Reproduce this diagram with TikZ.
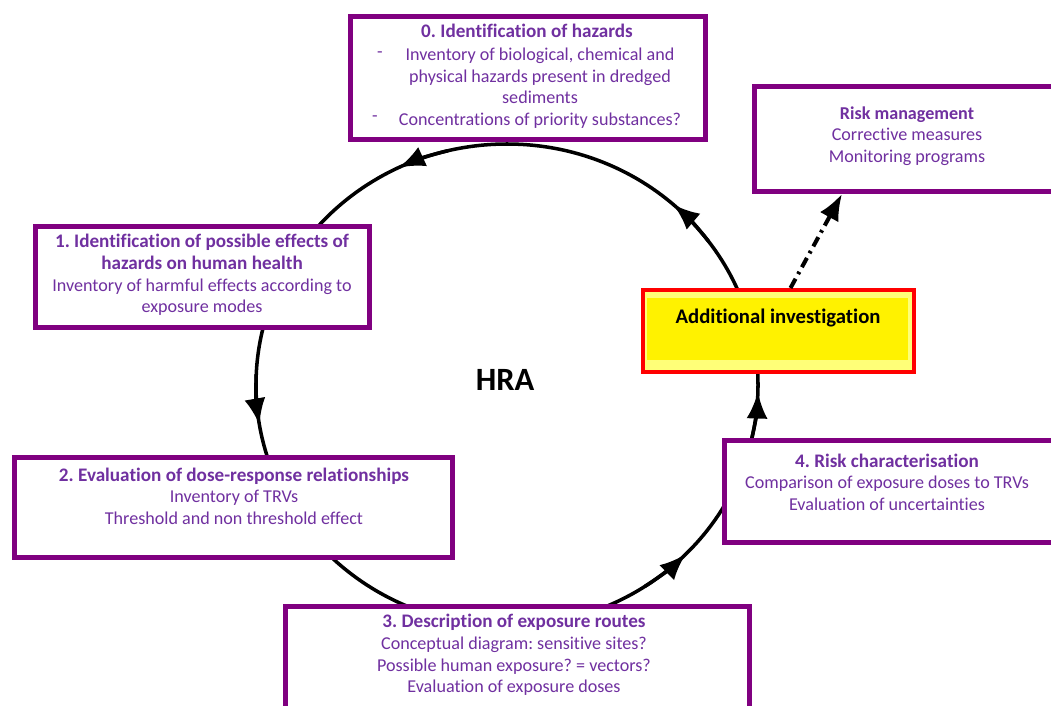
\documentclass[tikz,border=0pt]{standalone}
\usepackage{fontspec}
\setmainfont{Carlito}[Ligatures=NoCommon]
\usetikzlibrary{arrows.meta}
\definecolor{boxpurple}{RGB}{128,0,128}
\definecolor{txtpurple}{RGB}{112,48,160}
\definecolor{lightyel}{RGB}{255,255,120}
\newcommand{\ttlf}{\fontsize{10.9}{12.6}\selectfont\bfseries}
\frenchspacing
\begin{document}
\begin{tikzpicture}[x=0.02cm,y=0.02cm,
  box/.style={draw=boxpurple,line width=2.8pt,fill=white,inner sep=0pt,rectangle},
  body/.style={text=txtpurple,align=center,font=\fontsize{10.3}{12.3}\selectfont,inner sep=0pt},
  ttl/.style={font=\ttlf},
  flow/.style={line width=2pt,black},
  tipL/.style={-{Latex[length=15pt,width=12pt]}}]
\useasboundingbox (0,0) rectangle (1051,-706);
\clip (0,0) rectangle (1051,-706);
% cycle
\coordinate (c) at (507,-385);
\draw[flow] (c) ellipse [x radius=251, y radius=241];
\foreach \t in {115.6,189.5,315.4,358.3,48.5}{
  \pgfmathsetmacro{\s}{\t-12}
  \draw[flow,tipL] (c) ++(\s:251 and 241) arc[start angle=\s,end angle=\t,x radius=251,y radius=241];
}
\node[font=\fontsize{18.5}{22}\selectfont\bfseries] (hra) at (505,-380) {HRA};
% box 0
\node[box,minimum width=7.10cm,minimum height=2.46cm] (b0) at (528,-78) {};
\node[body,ttl] (b0t) at (527,-31) {0. Identification of hazards};
\node[body] (b0b) at (540,-88) {Inventory of biological, chemical and\\physical hazards present in dredged\\sediments\\Concentrations of priority substances?};
\node[body] (d1) at (380,-55) {-};
\node[body] (d2) at (375,-119) {-};
% risk management
\node[box,minimum width=6.10cm,minimum height=2.10cm] (rm) at (907,-139) {};
\node[body] (rmt) at (907,-136) {{\bfseries Risk management}\\Corrective measures\\Monitoring programs};
% box 1
\node[box,minimum width=6.68cm,minimum height=2.02cm] (b1) at (202.5,-277) {};
\node[body] (b1t) at (202,-275) {{\ttlf 1. Identification of possible effects of}\\{\ttlf hazards on human health}\\Inventory of harmful effects according to\\exposure modes};
% box 2
\node[box,minimum width=8.76cm,minimum height=2.0cm] (b2) at (233.5,-507.5) {};
\node[body] (b2t) at (234,-496) {{\ttlf 2. Evaluation of dose-response relationships}\\Inventory of TRVs\\Threshold and non threshold effect};
% box 3
\node[box,minimum width=9.28cm,minimum height=2.21cm] (b3) at (517.5,-661.75) {};
\node[body] (b3t) at (514,-655) {{\ttlf 3. Description of exposure routes}\\Conceptual diagram: sensitive sites?\\Possible human exposure? = vectors?\\Evaluation of exposure doses};
% box 4
\node[box,minimum width=6.70cm,minimum height=2.04cm] (b4) at (892,-491.5) {};
\node[body] (b4t) at (887,-482) {{\ttlf 4. Risk characterisation}\\Comparison of exposure doses to TRVs\\Evaluation of uncertainties};
% additional investigation
\node[draw=red,line width=2.3pt,fill=lightyel,inner sep=0pt,minimum width=5.42cm,minimum height=1.64cm,
  path picture={\fill[yellow] ([shift={(4,-8)}]path picture bounding box.north west) rectangle ([shift={(-6,12)}]path picture bounding box.south east);}]
  (ai) at (778.5,-331) {};
\node[font=\fontsize{11.8}{13.5}\selectfont\bfseries,inner sep=0pt] (ait) at (778,-318) {Additional investigation};
% dash-dot arrow
\draw[line width=2.3pt,dash pattern=on 6pt off 3pt on 1.5pt off 3pt,tipL] ([shift={(12,0)}]ai.north) -- ([shift={(-65,0)}]rm.south);
\end{tikzpicture}
\end{document}
